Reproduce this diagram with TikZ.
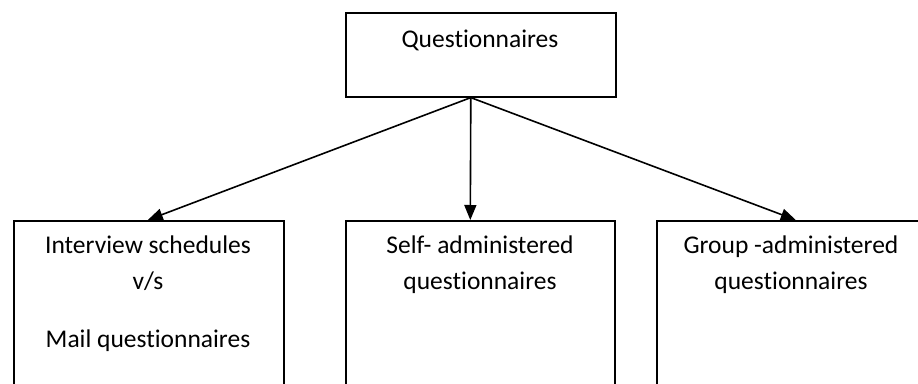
\documentclass[tikz,border=0pt]{standalone}
\usepackage{fontspec}
\setmainfont{Carlito}[Ligatures=NoCommon]
\usetikzlibrary{arrows.meta}
\begin{document}
\begin{tikzpicture}[x=1pt,y=-1pt,
  box/.style={draw, line width=1.6pt, rectangle, inner sep=0pt, anchor=north west},
  lbl/.style={font=\fontsize{25.5}{36}\selectfont, align=center, inner sep=0pt, anchor=base},
  conn/.style={line width=1.6pt, -{Triangle[length=15pt,width=12pt]}}]
\useasboundingbox (0,0) rectangle (918,383);
\clip (0,0) rectangle (918,383);
\node[box, minimum width=270pt, minimum height=84pt] (top) at (345,12) {};
\node[box, minimum width=270pt, minimum height=220pt] (left) at (13,220) {};
\node[box, minimum width=269pt, minimum height=220pt] (mid) at (345,220) {};
\node[box, minimum width=270pt, minimum height=220pt] (right) at (656,220) {};
\node[lbl] (ttop) at (480,47) {Questionnaires};
\node[lbl] (tleft) at (148,347) {Interview schedules\\v/s\\[22pt]Mail questionnaires};
\node[lbl] (tmid) at (480,289) {Self- administered\\questionnaires};
\node[lbl] (tright) at (791,289) {Group -administered\\questionnaires};
\draw[conn] ([xshift=-10pt]top.south) -- ([xshift=-1pt]left.north);
\draw[conn] ([xshift=-10pt]top.south) -- ([xshift=-10pt]mid.north);
\draw[conn] ([xshift=-10pt]top.south) -- ([xshift=4pt]right.north);
\end{tikzpicture}
\end{document}
